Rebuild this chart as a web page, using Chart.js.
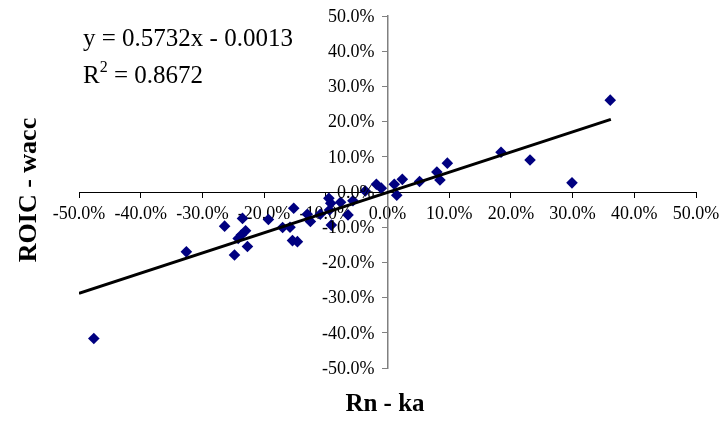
<!DOCTYPE html>
<html>
<head>
<meta charset="utf-8">
<script src="https://cdn.jsdelivr.net/npm/chart.js@4.4.0/dist/chart.umd.min.js"></script>
<style>
  html, body { margin: 0; padding: 0; background: #ffffff; }
  #wrap { width: 719px; height: 423px; }
</style>
</head>
<body>
<div id="wrap"><canvas id="grafico" width="719" height="423"></canvas></div>
<script>
// Rn - ka (x) and ROIC - wacc (y), as fractions
const rnKa = [-0.476, -0.326, -0.264, -0.235, -0.230, -0.237, -0.242, -0.248, -0.227, -0.193,
  -0.170, -0.158, -0.152, -0.154, -0.146, -0.130, -0.125, -0.109, -0.095, -0.092,
  -0.094, -0.091, -0.076, -0.064, -0.056, -0.036, -0.018, -0.010, 0.011, 0.015,
  0.024, 0.052, 0.080, 0.085, 0.097, 0.184, 0.231, 0.299, 0.361];
const roicWacc = [-0.416, -0.170, -0.097, -0.075, -0.110, -0.122, -0.132, -0.179, -0.155, -0.078,
  -0.101, -0.100, -0.046, -0.138, -0.141, -0.063, -0.084, -0.063, -0.018, -0.032,
  -0.051, -0.094, -0.029, -0.065, -0.025, 0.003, 0.022, 0.011, 0.022, -0.009,
  0.036, 0.030, 0.057, 0.034, 0.082, 0.113, 0.091, 0.026, 0.261];

// linear trend line (Excel): y = 0.5732x - 0.0013
const trendSlope = 0.5732;
const trendIntercept = -0.0013;
const trendRange = [-0.5, 0.362];
const equationLines = ['y = 0.5732x - 0.0013', '= 0.8672'];

const xTicks = [-0.5, -0.4, -0.3, -0.2, -0.1, 0, 0.1, 0.2, 0.3, 0.4, 0.5];
const yTicks = [-0.5, -0.4, -0.3, -0.2, -0.1, 0, 0.1, 0.2, 0.3, 0.4, 0.5];

const serif = "'Liberation Serif', 'Times New Roman', serif";

function formatPct(v) {
  return (v * 100).toFixed(1) + '%';
}

// Texts: y tick labels, equation, axis titles
const textosPlugin = {
  id: 'textos',
  afterDraw(chart) {
    const ctx = chart.ctx;
    const sx = chart.scales.x;
    const sy = chart.scales.y;
    ctx.save();
    ctx.fillStyle = '#000000';

    // y tick labels, left of the centred axis
    const xEixo = sx.getPixelForValue(0);
    ctx.font = '18px ' + serif;
    ctx.textAlign = 'right';
    ctx.textBaseline = 'middle';
    yTicks.forEach(v => {
      ctx.fillText(formatPct(v), xEixo - 13, sy.getPixelForValue(v) + 1);
    });

    ctx.textBaseline = 'alphabetic';
    ctx.textAlign = 'left';
    ctx.font = '25px ' + serif;
    ctx.fillText(equationLines[0], 83, 46);
    ctx.fillText('R', 83, 83);
    let w = ctx.measureText('R').width;
    ctx.font = '16px ' + serif;
    ctx.fillText('2', 83 + w, 72);
    let w2 = ctx.measureText('2').width;
    ctx.font = '25px ' + serif;
    ctx.fillText(' ' + equationLines[1], 83 + w + w2, 83);

    ctx.font = 'bold 25px ' + serif;
    ctx.textAlign = 'center';
    ctx.textBaseline = 'middle';
    ctx.fillText('Rn - ka', 385, 405);

    ctx.font = 'bold 26px ' + serif;
    ctx.translate(29, 190);
    ctx.rotate(-Math.PI / 2);
    ctx.fillText('ROIC - wacc', 0, 0);
    ctx.restore();
  }
};

function plotarGrafico() {
  const pontos = rnKa.map((x, i) => ({ x: x, y: roicWacc[i] }));
  const tendencia = trendRange.map(x => ({ x: x, y: trendSlope * x + trendIntercept }));

  const ctx = document.getElementById('grafico');

  const config = {
    type: 'scatter',
    data: {
      datasets: [{
        label: 'dados',
        data: pontos,
        pointStyle: 'rectRot',
        pointRadius: 5.8,
        backgroundColor: '#000080',
        borderColor: '#000080',
        borderWidth: 0,
        order: 2
      }, {
        label: 'tendencia',
        data: tendencia,
        showLine: true,
        pointRadius: 0,
        borderColor: '#000000',
        borderWidth: 3,
        order: 1
      }]
    },
    options: {
      responsive: false,
      animation: false,
      layout: { padding: { left: 79, right: 23, top: 16, bottom: 55 } },
      scales: {
        x: {
          type: 'linear',
          position: { y: 0 },
          min: -0.5,
          max: 0.5,
          afterBuildTicks: scale => { scale.ticks = xTicks.map(v => ({ value: v })); },
          afterFit: scale => { scale.paddingLeft = 0; scale.paddingRight = 0; },
          ticks: {
            color: '#000000',
            font: { family: serif, size: 18 },
            maxRotation: 0,
            autoSkip: false,
            padding: 6,
            callback: v => formatPct(v)
          },
          grid: { drawOnChartArea: false, tickLength: 5, color: '#000000' },
          border: { color: '#000000', width: 1 }
        },
        y: {
          type: 'linear',
          position: { x: 0 },
          min: -0.5,
          max: 0.5,
          afterBuildTicks: scale => { scale.ticks = yTicks.map(v => ({ value: v })); },
          ticks: { display: false },
          grid: { drawOnChartArea: false, tickLength: 5, color: '#808080' },
          border: { color: '#808080', width: 1.5 }
        }
      },
      plugins: {
        legend: { display: false },
        tooltip: { enabled: false }
      }
    },
    plugins: [textosPlugin]
  };

  new Chart(ctx, config);
}

plotarGrafico();
</script>
</body>
</html>
